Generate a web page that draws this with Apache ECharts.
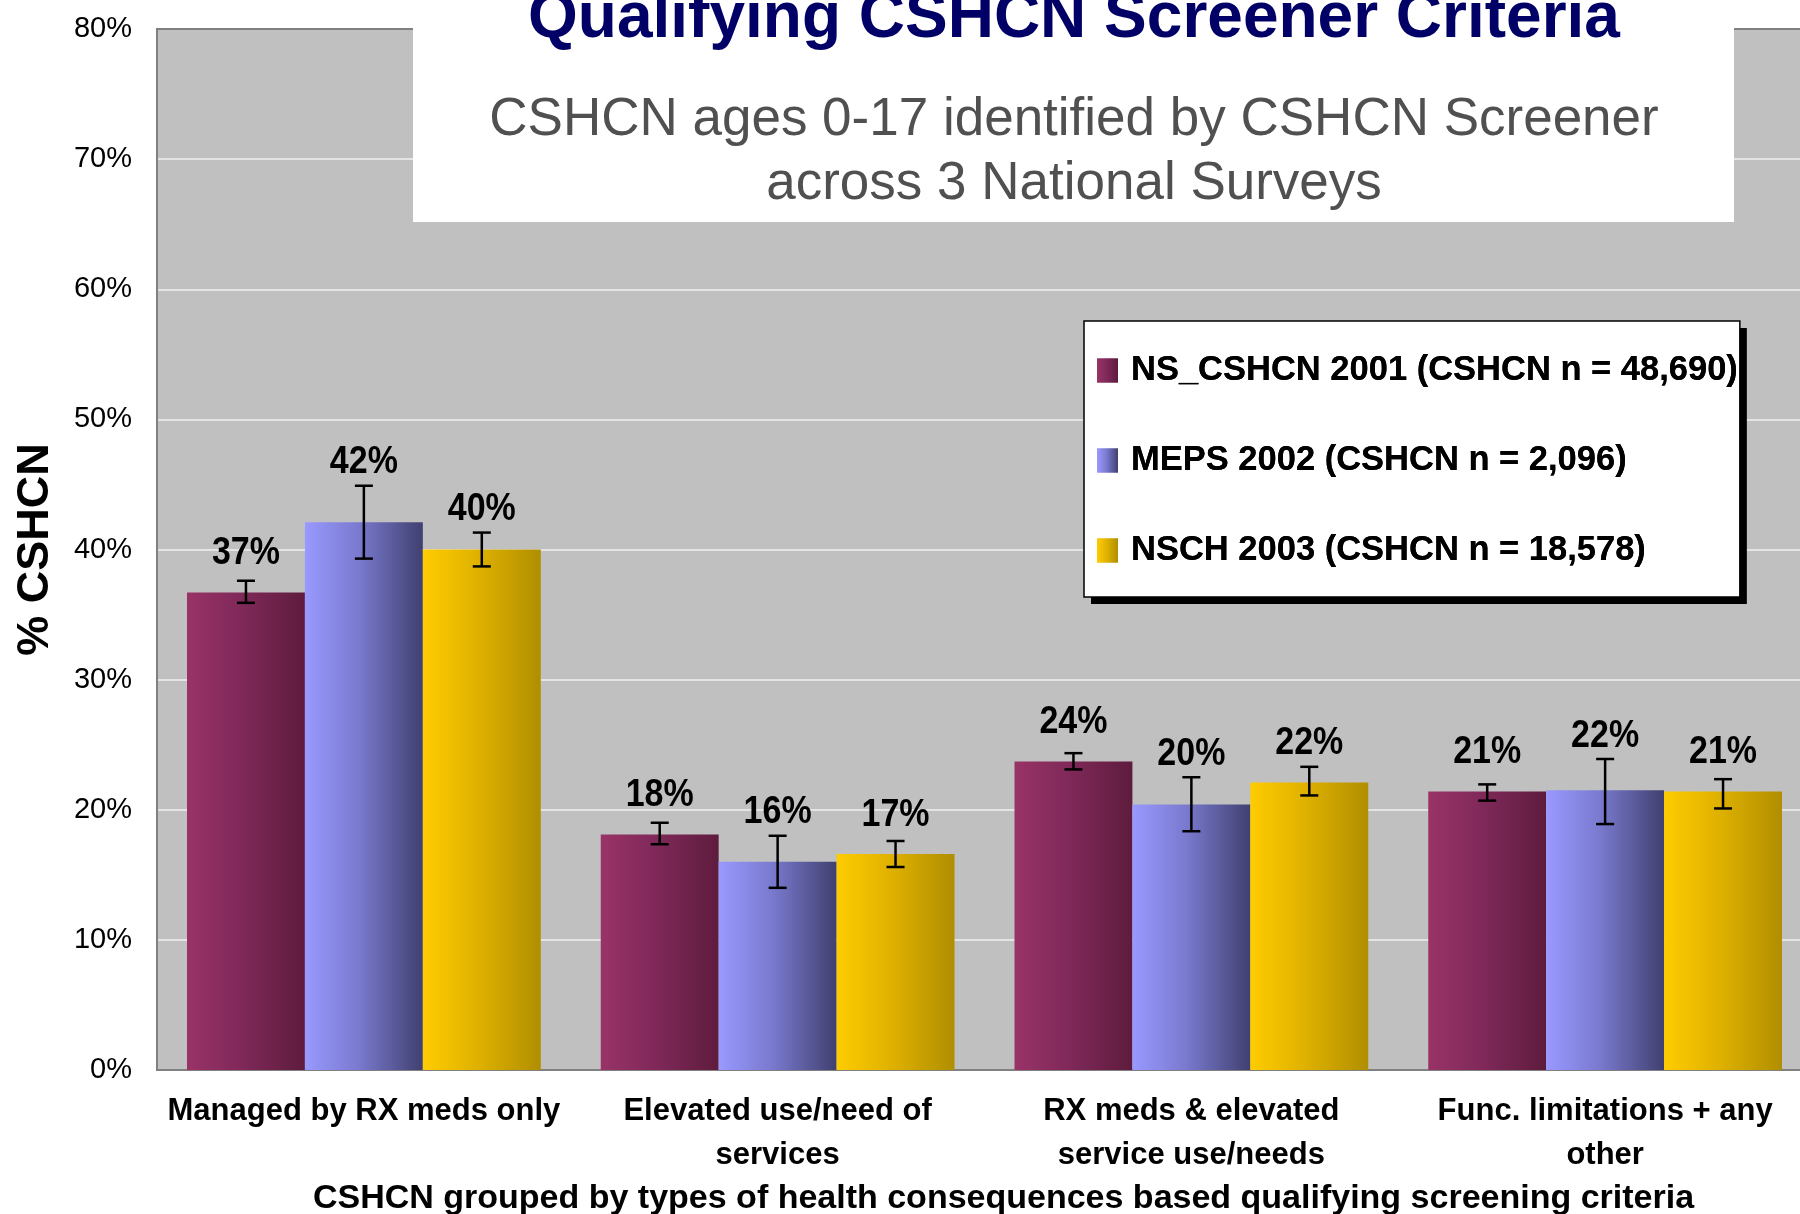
<!DOCTYPE html>
<html>
<head>
<meta charset="utf-8">
<script src="https://cdn.jsdelivr.net/npm/echarts@6/dist/echarts.min.js"></script>
<style>
html,body{margin:0;padding:0;background:#ffffff;overflow:hidden;}
#chart{width:1812px;height:1214px;}
</style>
</head>
<body>
<div id="chart"></div>
<script>
// ---- data ----
const categories = [
  'Managed by RX meds only',
  'Elevated use/need of\nservices',
  'RX meds & elevated\nservice use/needs',
  'Func. limitations + any\nother'
];
const seriesNames = [
  'NS_CSHCN 2001 (CSHCN n = 48,690)',
  'MEPS 2002 (CSHCN n = 2,096)',
  'NSCH 2003 (CSHCN n = 18,578)'
];
const nsValues   = [36.7, 18.1, 23.7, 21.4];
const mepsValues = [42.1, 16.0, 20.4, 21.5];
const nschValues = [40.0, 16.6, 22.1, 21.4];
const nsLow    = [35.9, 17.35, 23.1, 20.7];
const nsHigh   = [37.6, 19.0, 24.35, 21.95];
const mepsLow  = [39.3, 14.0, 18.35, 18.9];
const mepsHigh = [44.9, 18.0, 22.5, 23.9];
const nschLow  = [38.7, 15.6, 21.1, 20.1];
const nschHigh = [41.3, 17.6, 23.3, 22.35];
const yTicks = [0, 10, 20, 30, 40, 50, 60, 70, 80];
const titleText = 'Qualifying CSHCN Screener Criteria';
const subtitleLines = ['CSHCN ages 0-17 identified by CSHCN Screener', 'across 3 National Surveys'];
const yAxisName = '% CSHCN';
const xAxisName = 'CSHCN grouped by types of health consequences based qualifying screening criteria';

// ---- styling ----
const FONT = "'Liberation Sans', Arial, Helvetica, sans-serif";
const CAT_GAP = 0.145;
function grad(c0, c1, c2) {
  return new echarts.graphic.LinearGradient(0, 0, 1, 0, [
    {offset: 0, color: c0}, {offset: 0.45, color: c1}, {offset: 1, color: c2}
  ]);
}
const colors = [
  grad('#993366', '#80295a', '#5e1c3d'),
  grad('#9999ff', '#7a7ad0', '#404070'),
  grad('#ffcc00', '#e0b200', '#b08e00')
];
const values = [nsValues, mepsValues, nschValues];
const lows = [nsLow, mepsLow, nschLow];
const highs = [nsHigh, mepsHigh, nschHigh];

function errRender(k) {
  return function (params, api) {
    const c = api.value(0), lo = api.value(1), hi = api.value(2), v = api.value(3);
    const pHi = api.coord([c, hi]);
    const pLo = api.coord([c, lo]);
    const pV = api.coord([c, v]);
    const catW = api.size([1, 0])[0];
    const bw = catW * (1 - CAT_GAP) / 3;
    const x = pHi[0] + (k - 1) * bw;
    const cap = 9;
    const ls = {stroke: '#000', lineWidth: 2.5};
    const labelY = Math.min(pV[1] - 41, pHi[1] - 25) + 2;
    return {
      type: 'group',
      children: [
        {type: 'line', shape: {x1: x, y1: pHi[1], x2: x, y2: pLo[1]}, style: ls},
        {type: 'line', shape: {x1: x - cap, y1: pHi[1], x2: x + cap, y2: pHi[1]}, style: ls},
        {type: 'line', shape: {x1: x - cap, y1: pLo[1], x2: x + cap, y2: pLo[1]}, style: ls},
        {type: 'text', x: x, y: labelY, scaleY: 1.13, style: {
          text: Math.round(v) + '%',
          textAlign: 'center', textVerticalAlign: 'middle',
          font: 'bold 34px ' + FONT, fill: '#000'
        }}
      ]
    };
  };
}

const series = [];
for (let k = 0; k < 3; k++) {
  series.push({
    name: seriesNames[k], type: 'bar', data: values[k],
    barGap: '0%', barCategoryGap: (CAT_GAP * 100) + '%',
    itemStyle: {color: colors[k]}
  });
}
for (let k = 0; k < 3; k++) {
  series.push({
    name: 'err' + k, type: 'custom', renderItem: errRender(k),
    encode: {x: 0, y: [1, 2]}, z: 5,
    data: categories.map((c, i) => [i, lows[k][i], highs[k][i], values[k][i]])
  });
}

const legendBase = {
  data: seriesNames, orient: 'vertical', left: 1084, top: 321,
  padding: [32, 2, 29, 13], itemGap: 55, itemWidth: 21, itemHeight: 24,
  icon: 'rect',
  textStyle: {fontFamily: FONT, fontWeight: 'bold', fontSize: 34.5, lineHeight: 34, color: '#000', padding: [0, 0, 0, 8]}
};

const chart = echarts.init(document.getElementById('chart'), null, {renderer: 'canvas'});
chart.setOption({
  animation: false,
  backgroundColor: '#ffffff',
  grid: {
    left: 157, top: 29, right: 0, bottom: 144,
    outerBoundsMode: 'none', containLabel: false,
    show: true, backgroundColor: '#c0c0c0', borderColor: '#808080', borderWidth: 2
  },
  legend: [
    Object.assign({}, legendBase, {
      backgroundColor: '#ffffff', borderWidth: 0,
      shadowColor: '#000', shadowBlur: 0, shadowOffsetX: 7, shadowOffsetY: 7
    }),
    Object.assign({}, legendBase, {
      backgroundColor: 'transparent', borderColor: '#000', borderWidth: 1.5
    })
  ],
  xAxis: {
    type: 'category', data: categories,
    axisLine: {lineStyle: {color: '#808080', width: 2}},
    axisTick: {show: false},
    axisLabel: {interval: 0, color: '#000', fontFamily: FONT, fontWeight: 'bold', fontSize: 31, lineHeight: 44, margin: 19},
    name: xAxisName, nameLocation: 'middle', nameGap: 110,
    nameTextStyle: {color: '#000', fontFamily: FONT, fontWeight: 'bold', fontSize: 34, padding: [0, 0, 0, 38]}
  },
  yAxis: {
    type: 'value', min: yTicks[0], max: yTicks[yTicks.length - 1], interval: yTicks[1] - yTicks[0],
    axisLine: {show: true, lineStyle: {color: '#808080', width: 2}},
    axisTick: {show: false},
    axisLabel: {formatter: '{value}%', color: '#000', fontFamily: FONT, fontSize: 29, margin: 25},
    splitLine: {show: true, showMaxLine: false, showMinLine: false, lineStyle: {color: '#e4e4e4', width: 2}},
    name: yAxisName, nameLocation: 'middle', nameGap: 99, nameRotate: 90,
    nameTextStyle: {color: '#000', fontFamily: FONT, fontWeight: 'bold', fontSize: 45}
  },
  graphic: [
    {type: 'rect', z: 100, shape: {x: 413, y: 0, width: 1321, height: 222}, style: {fill: '#ffffff'}},
    {type: 'text', z: 101, x: 1074, y: 19, style: {
      text: titleText, textAlign: 'center', textVerticalAlign: 'middle',
      font: 'bold 64px ' + FONT, fill: '#000066',
      shadowColor: 'rgba(0,0,0,0.35)', shadowBlur: 4, shadowOffsetX: 3, shadowOffsetY: 4
    }},
    {type: 'text', z: 101, x: 1074, y: 120, style: {
      text: subtitleLines[0], textAlign: 'center', textVerticalAlign: 'middle',
      font: '53px ' + FONT, fill: '#505050'
    }},
    {type: 'text', z: 101, x: 1074, y: 184, style: {
      text: subtitleLines[1], textAlign: 'center', textVerticalAlign: 'middle',
      font: '53px ' + FONT, fill: '#505050'
    }}
  ],
  series: series
});
</script>
</body>
</html>
